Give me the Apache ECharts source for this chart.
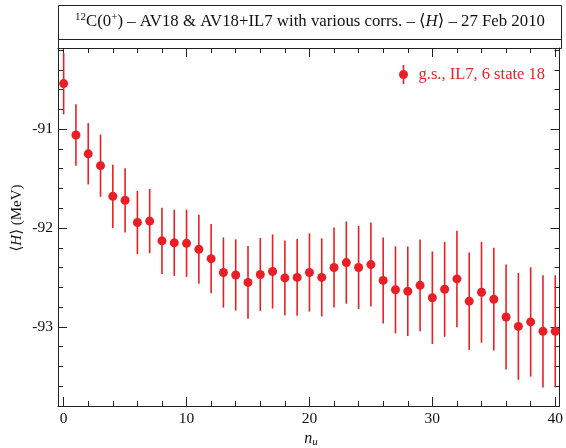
<!DOCTYPE html>
<html>
<head>
<meta charset="utf-8">
<script src="https://cdn.jsdelivr.net/npm/echarts@6/dist/echarts.min.js"></script>
<style>html,body{margin:0;padding:0;background:#fff}#c{width:566px;height:448px}</style>
</head>
<body>
<div id="c"></div>
<script>
// ---- data ----
const nu = [0,1,2,3,4,5,6,7,8,9,10,11,12,13,14,15,16,17,18,19,20,21,22,23,24,25,26,27,28,29,30,31,32,33,34,35,36,37,38,39,40];
const energy = [-90.54,-91.06,-91.25,-91.37,-91.68,-91.72,-91.945,-91.93,-92.13,-92.15,-92.155,-92.215,-92.31,-92.45,-92.475,-92.55,-92.47,-92.44,-92.505,-92.50,-92.45,-92.50,-92.40,-92.35,-92.40,-92.37,-92.53,-92.625,-92.64,-92.58,-92.705,-92.62,-92.515,-92.74,-92.65,-92.72,-92.90,-92.995,-92.95,-93.045,-93.045];
const errors = [0.31,0.31,0.31,0.315,0.32,0.325,0.32,0.325,0.335,0.335,0.34,0.35,0.35,0.355,0.36,0.368,0.368,0.375,0.378,0.388,0.395,0.395,0.405,0.415,0.42,0.425,0.435,0.44,0.453,0.463,0.468,0.48,0.488,0.493,0.51,0.52,0.53,0.54,0.553,0.567,0.567];
const seriesName = 'g.s., IL7, 6 state 18';
const xMajorTicks = [0,10,20,30,40];
const xMinorTicks = [2,4,6,8,12,14,16,18,22,24,26,28,32,34,36,38];
const yMajorTicks = [-93,-92,-91];
const yMinorTicks = [-93.6,-93.4,-93.2,-92.8,-92.6,-92.4,-92.2,-91.8,-91.6,-91.4,-91.2,-90.8,-90.6,-90.4,-90.2];

const RED = '#ea1f26';
const SERIF = '"Liberation Serif","DejaVu Serif",serif';
const XMIN = -0.46, XMAX = 40.35, YMIN = -93.8, YMAX = -90.18;

const pts = nu.map((n,i)=>[n, energy[i]]);
const bars = nu.map((n,i)=>[n, energy[i], errors[i]]);

function xAx(pos, ticks, len, labels, line){
  return {type:'value', min:XMIN, max:XMAX, position:pos, splitLine:{show:false},
    axisLine:{show:line, onZero:false, lineStyle:{color:'#222', width:1}},
    axisTick:{show:true, inside:true, length:len, customValues:ticks, lineStyle:{color:'#222', width:1}},
    axisLabel:{show:labels, customValues:ticks, margin:5, color:'#111', fontSize:15.5, fontFamily:SERIF}};
}
function yAx(pos, ticks, len, labels, line){
  return {type:'value', min:YMIN, max:YMAX, position:pos, splitLine:{show:false},
    axisLine:{show:line, onZero:false, lineStyle:{color:'#222', width:1}},
    axisTick:{show:true, inside:true, length:len, customValues:ticks, lineStyle:{color:'#222', width:1}},
    axisLabel:{show:labels, customValues:ticks, margin:5, color:'#111', fontSize:15.5, fontFamily:SERIF}};
}

const chart = echarts.init(document.getElementById('c'), null, {renderer:'canvas'});
chart.setOption({
  animation:false,
  backgroundColor:'#fff',
  grid:{left:58, right:4, top:48, bottom:42, containLabel:false},
  xAxis:[xAx('bottom', xMajorTicks, 9, true, true), xAx('bottom', xMinorTicks, 5, false, false),
         xAx('top', xMajorTicks, 9, false, true), xAx('top', xMinorTicks, 5, false, false)],
  yAxis:[yAx('left', yMajorTicks, 9, true, true), yAx('left', yMinorTicks, 5, false, false),
         yAx('right', yMajorTicks, 9, false, true), yAx('right', yMinorTicks, 5, false, false)],
  legend:{
    selectedMode:false, left:399, top:65, padding:0, itemWidth:20, itemHeight:19,
    data:[{name:seriesName, icon:'path://M4.2,0 H5.8 V19 H4.2 Z M0.5,9.5 A4.5,4.5 0 1,1 9.5,9.5 A4.5,4.5 0 1,1 0.5,9.5 Z'}],
    textStyle:{color:RED, fontSize:16.5, fontFamily:SERIF}
  },
  graphic:[
    {type:'rect', shape:{x:58.5, y:5.5, width:503, height:43}, style:{fill:null, stroke:'#222', lineWidth:1}, silent:true},
    {type:'line', shape:{x1:58.5, y1:39.5, x2:561.5, y2:39.5}, style:{stroke:'#222', lineWidth:1}, silent:true},
    {type:'text', x:310, y:22, silent:true, style:{
      text:'{sup|12}C(0{sup|+}) – AV18 & AV18+IL7 with various corrs. – ⟨{it|H}⟩ – 27 Feb 2010',
      align:'center', verticalAlign:'middle', fill:'#111', fontSize:16.8, fontFamily:SERIF, lineHeight:20,
      rich:{sup:{fontSize:11, fontFamily:SERIF, lineHeight:12, verticalAlign:'top', fill:'#111'},
            it:{fontSize:16.8, fontFamily:SERIF, fontStyle:'italic', lineHeight:20, fill:'#111'}}
    }},
    {type:'text', x:17, y:218, rotation:Math.PI/2, silent:true, style:{
      text:'⟨{it|H}⟩ (MeV)', align:'center', verticalAlign:'middle', fill:'#111', fontSize:15, fontFamily:SERIF,
      rich:{it:{fontSize:15, fontFamily:SERIF, fontStyle:'italic', fill:'#111'}}
    }},
    {type:'text', x:311, y:439, silent:true, style:{
      text:'{n|n}{u|u}', align:'center', verticalAlign:'middle', fill:'#111', fontSize:16, fontFamily:SERIF, lineHeight:18,
      rich:{n:{fontSize:16, fontFamily:SERIF, fontStyle:'italic', lineHeight:18, fill:'#111'},
            u:{fontSize:11, fontFamily:SERIF, fontStyle:'italic', lineHeight:11, verticalAlign:'bottom', fill:'#111'}}
    }}
  ],
  series:[
    {type:'custom', name:'errors', xAxisIndex:0, yAxisIndex:0, clip:true, data:bars, silent:true,
      renderItem:function(params, api){
        const x = api.value(0), v = api.value(1), e = api.value(2);
        const p1 = api.coord([x, v - e]), p2 = api.coord([x, v + e]);
        return {type:'line', shape:{x1:p1[0], y1:p1[1], x2:p2[0], y2:p2[1]}, style:{stroke:RED, lineWidth:1.6}};
      }},
    {type:'scatter', name:seriesName, xAxisIndex:0, yAxisIndex:0, data:pts, symbol:'circle', symbolSize:9,
      itemStyle:{color:RED, opacity:1}, silent:true}
  ]
});
</script>
</body>
</html>
